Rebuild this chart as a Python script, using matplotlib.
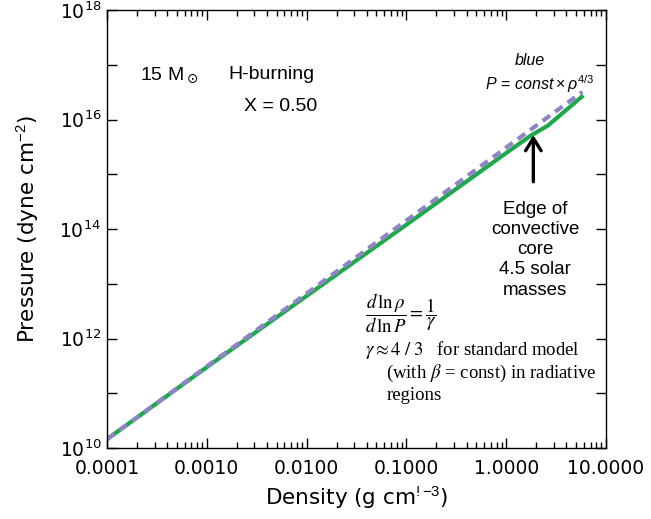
import matplotlib
matplotlib.use('Agg')
import matplotlib.pyplot as plt
from matplotlib.ticker import FixedLocator, FuncFormatter, NullFormatter
import numpy as np

# stellar model, 15 Msun H-burning, X = 0.50
rho_model = [1e-4, 1e-3, 1e-2, 0.1, 1.0, 1.74, 2.63, 5.7]
P_model = [1.45e10, 3.0e11, 6.0e12, 1.2e14, 2.45e15, 5.0e15, 7.8e15, 2.6e16]

# polytrope P = const x rho^(4/3), straight in log-log
rho_poly = [1e-4, 5.8]
P_poly = [1.44e10, 3.2e16]

# edge of convective core (arrow)
rho_edge = 1.87
P_edge_tip = 5.2e15
P_edge_tail = 7.3e14

x_ticks = [1e-4, 1e-3, 1e-2, 1e-1, 1e0, 1e1]
x_labels = ['0.0001', '0.0010', '0.0100', '0.1000', '1.0000', '10.0000']
y_ticks = [1e10, 1e11, 1e12, 1e13, 1e14, 1e15, 1e16, 1e17, 1e18]

plt.rcParams['mathtext.fontset'] = 'custom'
plt.rcParams['mathtext.rm'] = 'Liberation Sans'
plt.rcParams['mathtext.it'] = 'Liberation Sans:italic'

fig = plt.figure(figsize=(6.51, 5.19), dpi=100)
ax = fig.add_axes([0.1644, 0.1368, 0.7665, 0.8439])

ax.plot(rho_model, P_model, color='#1fa84a', lw=3, solid_joinstyle='miter')
ax.plot(rho_poly, P_poly, color='#8c85c6', lw=3, dashes=(2.2, 1.5))

ax.set_xscale('log')
ax.set_yscale('log')
ax.set_xlim(1e-4, 10)
ax.set_ylim(1e10, 1e18)

ax.xaxis.set_major_locator(FixedLocator(x_ticks))
ax.set_xticklabels(x_labels)
ax.yaxis.set_major_locator(FixedLocator(y_ticks))
ax.yaxis.set_minor_formatter(NullFormatter())


def ylab(v, pos):
    e = int(round(np.log10(v)))
    if e % 2:
        return ''
    return r'$\mathdefault{10^{%d}}$' % e


ax.yaxis.set_major_formatter(FuncFormatter(ylab))
ax.yaxis.set_minor_locator(FixedLocator([]))
ax.tick_params(which='both', direction='in', top=True, right=True, width=1)
ax.tick_params(which='major', length=7, labelsize=13.5, pad=8)
ax.tick_params(axis='y', which='major', length=7, pad=4)
ax.tick_params(which='minor', length=4)
for s in ax.spines.values():
    s.set_linewidth(1)
for lab in ax.get_xticklabels() + ax.get_yticklabels():
    lab.set_family('DejaVu Sans')

ax.set_xlabel(r'Density (g cm$^{!{-}3}$)', fontsize=15.5, family='DejaVu Sans', labelpad=4)
ax.set_ylabel(r'Pressure (dyne cm$^{-2}$)', fontsize=15.5, family='DejaVu Sans', labelpad=13)

sans = 'Liberation Sans'
ax.text(0.067, 0.842, r'15 M$_\odot$', transform=ax.transAxes, fontsize=14, family=sans,
        math_fontfamily='dejavusans')
ax.text(0.243, 0.842, 'H-burning', transform=ax.transAxes, fontsize=14, family=sans)
ax.text(0.275, 0.77, 'X = 0.50', transform=ax.transAxes, fontsize=14, family=sans)

ax.text(0.848, 0.875, 'blue', transform=ax.transAxes, fontsize=11.5, family=sans,
        style='italic', ha='center')
ax.text(0.868, 0.818, r'$P\,=\,const \times \rho^{4/3}$', transform=ax.transAxes,
        fontsize=11.5, ha='center', family=sans, math_fontfamily='custom')

ax.annotate('', xy=(rho_edge, P_edge_tip), xytext=(rho_edge, P_edge_tail),
            arrowprops=dict(arrowstyle='->, head_length=0.45, head_width=0.28', color='black',
                            lw=2.4, mutation_scale=20, shrinkA=0, shrinkB=0))
ax.text(0.858, 0.565, 'Edge of\nconvective\ncore\n4.5 solar\nmasses', transform=ax.transAxes,
        fontsize=13.5, family=sans, ha='center', va='top', linespacing=1.25)

serif = 'Liberation Serif'
ax.text(0.517, 0.308, r'$\dfrac{d\,\ln\rho}{d\,\ln P} = \dfrac{1}{\gamma}$', transform=ax.transAxes,
        fontsize=13.5, math_fontfamily='stix', va='center')
ax.text(0.517, 0.224, r'$\gamma \approx 4\;/\;3$   for standard model', transform=ax.transAxes,
        fontsize=13.5, family=serif, math_fontfamily='stix', va='center')
ax.text(0.56, 0.171, r'(with $\beta$ = const) in radiative', transform=ax.transAxes,
        fontsize=13.5, family=serif, math_fontfamily='stix', va='center')
ax.text(0.56, 0.121, 'regions', transform=ax.transAxes,
        fontsize=13.5, family=serif, va='center')

fig.savefig('out.png', dpi=100)
